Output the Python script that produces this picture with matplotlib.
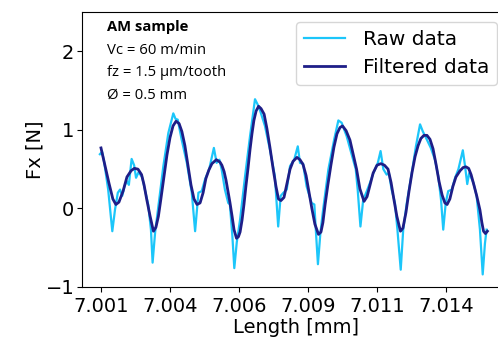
import matplotlib
matplotlib.use("Agg")
import matplotlib.pyplot as plt
import numpy as np

# raw force signal
raw_length = [7.00121, 7.00129, 7.00137, 7.00151, 7.00166, 7.00176, 7.00186, 7.00194, 7.00202, 7.00210,
              7.00218, 7.00226, 7.00236, 7.00245, 7.00252, 7.00261, 7.00274, 7.00284, 7.00296, 7.00306,
              7.00312, 7.00321, 7.00333, 7.00351, 7.00369, 7.00387, 7.00395, 7.00403, 7.00417, 7.00436,
              7.00454, 7.00466, 7.00478, 7.00490, 7.00502, 7.00517, 7.00534, 7.00544, 7.00554, 7.00562,
              7.00574, 7.00586, 7.00592, 7.00601, 7.00608, 7.00617, 7.00629, 7.00647, 7.00665, 7.00683,
              7.00693, 7.00701, 7.00719, 7.00737, 7.00755, 7.00767, 7.00776, 7.00786, 7.00798, 7.00810,
              7.00825, 7.00838, 7.00846, 7.00857, 7.00870, 7.00888, 7.00898, 7.00904, 7.00911, 7.00920,
              7.00930, 7.00949, 7.00970, 7.00985, 7.00997, 7.01015, 7.01033, 7.01048, 7.01055, 7.01065,
              7.01075, 7.01088, 7.01100, 7.01112, 7.01128, 7.01138, 7.01148, 7.01160, 7.01168, 7.01178,
              7.01190, 7.01199, 7.01211, 7.01220, 7.01233, 7.01251, 7.01266, 7.01281, 7.01291, 7.01305,
              7.01320, 7.01335, 7.01347, 7.01357, 7.01365, 7.01374, 7.01383, 7.01396, 7.01408, 7.01420,
              7.01436, 7.01444, 7.01452, 7.01459, 7.01474, 7.01486, 7.01498, 7.01508, 7.01516, 7.01522]
raw_fx = [0.69, 0.72, 0.58, 0.24, -0.29, -0.01, 0.20, 0.24, 0.16, 0.28,
          0.35, 0.30, 0.63, 0.55, 0.39, 0.46, 0.40, 0.24, 0.05, -0.27,
          -0.69, -0.31, 0.03, 0.54, 0.96, 1.21, 1.14, 1.13, 0.88, 0.58,
          0.20, -0.29, 0.20, 0.22, 0.37, 0.50, 0.77, 0.58, 0.62, 0.50,
          0.24, 0.07, 0.05, -0.35, -0.76, -0.43, -0.14, 0.41, 0.92, 1.39,
          1.32, 1.25, 1.05, 0.75, 0.41, -0.23, 0.16, 0.20, 0.24, 0.54,
          0.62, 0.79, 0.58, 0.57, 0.28, 0.07, 0.05, -0.31, -0.71, -0.31,
          -0.01, 0.50, 0.88, 1.12, 1.09, 0.92, 0.69, 0.50, 0.24, -0.23,
          0.11, 0.22, 0.33, 0.45, 0.58, 0.73, 0.50, 0.43, 0.45, 0.24,
          0.07, -0.27, -0.78, -0.27, 0.07, 0.45, 0.79, 1.07, 0.98, 0.88,
          0.77, 0.62, 0.41, 0.11, -0.27, 0.07, 0.22, 0.24, 0.39, 0.50,
          0.74, 0.54, 0.31, 0.45, 0.33, 0.16, -0.27, -0.84, -0.45, -0.27]

# filtered signal
filt_length = [7.00125, 7.00139, 7.00154, 7.00168, 7.00179, 7.00190, 7.00205, 7.00219, 7.00234, 7.00246,
               7.00259, 7.00272, 7.00281, 7.00291, 7.00303, 7.00315, 7.00324, 7.00333, 7.00342, 7.00353,
               7.00364, 7.00375, 7.00386, 7.00397, 7.00408, 7.00418, 7.00429, 7.00440, 7.00451, 7.00462,
               7.00473, 7.00484, 7.00495, 7.00505, 7.00516, 7.00527, 7.00543, 7.00556, 7.00563, 7.00571,
               7.00578, 7.00585, 7.00592, 7.00600, 7.00607, 7.00616, 7.00623, 7.00629, 7.00636, 7.00643,
               7.00650, 7.00658, 7.00665, 7.00672, 7.00679, 7.00687, 7.00696, 7.00705, 7.00716, 7.00726,
               7.00737, 7.00748, 7.00759, 7.00768, 7.00777, 7.00788, 7.00799, 7.00810, 7.00821, 7.00835,
               7.00846, 7.00857, 7.00868, 7.00879, 7.00889, 7.00900, 7.00913, 7.00922, 7.00929, 7.00937,
               7.00947, 7.00958, 7.00969, 7.00980, 7.00991, 7.01000, 7.01013, 7.01027, 7.01038, 7.01051,
               7.01063, 7.01078, 7.01089, 7.01100, 7.01111, 7.01125, 7.01139, 7.01152, 7.01165, 7.01176,
               7.01187, 7.01197, 7.01210, 7.01219, 7.01230, 7.01241, 7.01252, 7.01263, 7.01274, 7.01284,
               7.01295, 7.01306, 7.01317, 7.01328, 7.01339, 7.01350, 7.01361, 7.01371, 7.01379, 7.01389,
               7.01400, 7.01411, 7.01426, 7.01437, 7.01447, 7.01457, 7.01466, 7.01476, 7.01487, 7.01498,
               7.01505, 7.01511, 7.01518, 7.01525]
filt_fx = [0.77, 0.55, 0.32, 0.12, 0.05, 0.08, 0.22, 0.40, 0.48, 0.51,
           0.50, 0.43, 0.30, 0.11, -0.10, -0.29, -0.24, -0.10, 0.12, 0.40,
           0.68, 0.90, 1.05, 1.11, 1.08, 0.98, 0.80, 0.55, 0.30, 0.12,
           0.05, 0.07, 0.20, 0.38, 0.49, 0.57, 0.62, 0.59, 0.55, 0.47,
           0.36, 0.22, 0.08, -0.10, -0.27, -0.38, -0.36, -0.30, -0.15, 0.05,
           0.28, 0.52, 0.75, 0.95, 1.12, 1.24, 1.30, 1.27, 1.20, 1.02,
           0.78, 0.52, 0.28, 0.12, 0.10, 0.14, 0.32, 0.50, 0.60, 0.65,
           0.62, 0.56, 0.42, 0.20, 0.00, -0.20, -0.33, -0.30, -0.18, 0.05,
           0.30, 0.55, 0.78, 0.95, 1.03, 1.05, 0.99, 0.87, 0.70, 0.50,
           0.25, 0.09, 0.15, 0.30, 0.45, 0.55, 0.57, 0.55, 0.50, 0.33,
           0.10, -0.10, -0.29, -0.25, -0.05, 0.22, 0.46, 0.66, 0.80, 0.89,
           0.93, 0.93, 0.88, 0.76, 0.56, 0.34, 0.17, 0.07, 0.05, 0.12,
           0.28, 0.40, 0.48, 0.52, 0.53, 0.51, 0.43, 0.30, 0.15, -0.02,
           -0.18, -0.29, -0.32, -0.29]

xtick_pos = [7.00125, 7.00375, 7.00625, 7.00875, 7.01125, 7.01375]
xtick_labels = ["7.001", "7.004", "7.006", "7.009", "7.011", "7.014"]
yticks = [-1, 0, 1, 2]

info_lines = ["Vc = 60 m/min", "fz = 1.5 \u00b5m/tooth", "\u00d8 = 0.5 mm"]

W, H = 498, 338
fig = plt.figure(figsize=(W / 100, H / 100), dpi=100)
# the right edge of the plot is cut off in the reference, so the axes run past the figure
ax = fig.add_axes([82 / W, 51 / H, 428 / W, 275 / H])

ax.plot(raw_length, raw_fx, color="#1cc6fa", lw=1.6, label="Raw data")
ax.plot(filt_length, filt_fx, color="#1e1e88", lw=2.0, label="Filtered data")

ax.set_xlim(7.000562, 7.016069)
ax.set_ylim(-1, 2.5)
ax.set_xticks(xtick_pos)
ax.set_xticklabels(xtick_labels)
ax.set_yticks(yticks)
ax.tick_params(labelsize=14)
ax.tick_params(axis="x", pad=4)
ax.tick_params(axis="y", pad=2)
ax.set_xlabel("Length [mm]", fontsize=14, labelpad=1)
ax.set_ylabel("Fx [N]", fontsize=14, labelpad=1)

ax.legend(loc="upper right", bbox_to_anchor=(497 / W, 1 - 22 / H),
          bbox_transform=fig.transFigure, borderaxespad=0, fontsize=14.5,
          handlelength=2.05, handletextpad=0.85, borderpad=0.4, labelspacing=0.46)

fig.text(107 / W, 1 - 27 / H, "AM sample", fontsize=10.6, fontweight="bold",
         family="Open Sans", va="center", ha="left")
for i, line in enumerate(info_lines):
    fig.text(107 / W, 1 - (50 + 22.5 * i) / H, line, fontsize=10.7,
             family="Open Sans", va="center", ha="left")

fig.savefig("out.png", dpi=100)
